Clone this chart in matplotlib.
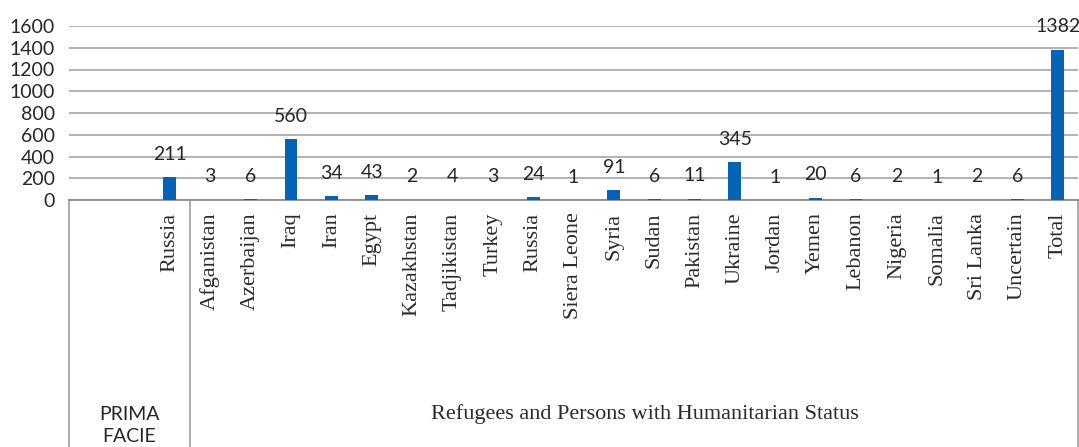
import matplotlib.pyplot as plt

# asylum decisions by country of origin
countries = ["", "", "Russia", "Afganistan", "Azerbaijan", "Iraq", "Iran", "Egypt",
             "Kazakhstan", "Tadjikistan", "Turkey", "Russia", "Siera Leone", "Syria",
             "Sudan", "Pakistan", "Ukraine", "Jordan", "Yemen", "Lebanon", "Nigeria",
             "Somalia", "Sri Lanka", "Uncertain", "Total"]
counts = [None, None, 211, 3, 6, 560, 34, 43, 2, 4, 3, 24, 1, 91, 6, 11, 345,
          1, 20, 6, 2, 1, 2, 6, 1382]
groups = ["PRIMA\nFACIE", "Refugees and Persons with Humanitarian Status"]
group_spans = [(-0.5, 2.5), (2.5, 24.5)]
yticks = [0, 200, 400, 600, 800, 1000, 1200, 1400, 1600]

W, H = 1079, 447
fig = plt.figure(figsize=(W / 100, H / 100), dpi=100)
ax = fig.add_axes([69 / W, 247 / H, 1009 / W, 174 / H])

xs = list(range(len(countries)))
bx = [x for x, c in zip(xs, counts) if c is not None]
bv = [c for c in counts if c is not None]
ax.bar(bx, bv, width=0.32, color="#0563b5", zorder=3)

for x, v in zip(bx, bv):
    ax.annotate(str(v), (x, v), xytext=(0, 12.5), textcoords="offset points",
                ha="center", va="baseline", fontsize=14, family="Lato",
                color="#262626", zorder=4)

ax.set_xlim(-0.5, len(countries) - 0.5)
ax.set_ylim(0, 1600)
ax.set_yticks(yticks)
ax.set_yticklabels([str(t) for t in yticks], family="Lato", fontsize=14, color="#262626")
ax.yaxis.grid(True, color="#a6a6a6", linewidth=1.2, zorder=0)
ax.tick_params(axis="y", length=0, pad=10)

ax.set_xticks(xs)
ax.set_xticklabels(countries, rotation=90, family="Liberation Serif", fontsize=16,
                   color="#2b2b2b")
ax.tick_params(axis="x", length=0, pad=9)

for s in ["top", "right", "left"]:
    ax.spines[s].set_visible(False)
ax.spines["bottom"].set_color("#8c8c8c")
ax.spines["bottom"].set_linewidth(1.3)

# group box below the axis
tr = ax.get_xaxis_transform()
ybot = -247 / 174
for xb in [-0.5, 2.5, 24.5]:
    ax.plot([xb, xb], [0, ybot], transform=tr, color="#a6a6a6", lw=1.3,
            clip_on=False)

ax.text(sum(group_spans[0]) / 2, -1.295, groups[0], transform=tr, ha="center",
        va="center", family="Lato", fontsize=14, color="#262626", linespacing=1.35)
ax.text(sum(group_spans[1]) / 2 + 0.27, -1.23, groups[1], transform=tr, ha="center",
        va="center", family="Liberation Serif", fontsize=16, color="#2b2b2b")

fig.savefig("out.png", dpi=100)
